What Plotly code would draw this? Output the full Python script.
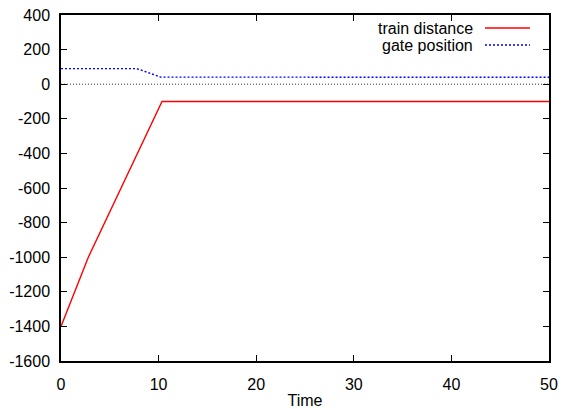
import plotly.graph_objects as go

# Data
train_t = [0, 2.8, 10.35, 50]
train_d = [-1400, -1000, -100, -100]
gate_t = [0, 7.75, 8.4, 9.1, 9.8, 10.2, 50]
gate_p = [90, 90, 78, 63, 47, 41, 40]
x_ticks = [0, 10, 20, 30, 40, 50]
y_ticks = [400, 200, 0, -200, -400, -600, -800, -1000, -1200, -1400, -1600]
series_names = ["train distance", "gate position"]

font = dict(family="Liberation Sans, Arial, sans-serif", size=16, color="black")

fig = go.Figure()
fig.add_trace(go.Scatter(x=train_t, y=train_d, mode="lines",
                         line=dict(color="#ff0000", width=1.4), name=series_names[0]))
fig.add_trace(go.Scatter(x=gate_t, y=gate_p, mode="lines",
                         line=dict(color="#0000ff", width=1.4, dash="2px,2px"), name=series_names[1]))

# zero axis (dotted)
fig.add_shape(type="line", xref="paper", x0=0, x1=1, yref="y", y0=0, y1=0,
              line=dict(color="black", width=0.8, dash="1px,2px"))

L, R, T, B = 61, 549, 15, 361
# gnuplot-style legend: text then sample on the right
for i, (name, col, dash) in enumerate([(series_names[0], "#ff0000", "solid"),
                                        (series_names[1], "#0000ff", "2px,2px")]):
    ypix = 28 + 17 * i
    yp = 1 - (ypix - T) / (B - T)
    fig.add_annotation(text=name, xref="paper", yref="paper", x=(475 - L) / (R - L), y=yp,
                       xanchor="right", yanchor="middle", showarrow=False,
                       font=font)
    fig.add_shape(type="line", xref="paper", yref="paper",
                  x0=(485 - L) / (R - L), x1=(530 - L) / (R - L),
                  y0=yp, y1=yp, line=dict(color=col, width=1.4, dash=dash))

axis_common = dict(showline=True, linecolor="black", linewidth=1.5, mirror="ticks",
                   ticks="inside", ticklen=6, tickcolor="black", tickwidth=1,
                   showgrid=False, zeroline=False, tickfont=font, automargin=False)

fig.update_layout(
    width=563, height=409,
    margin=dict(l=L, r=563 - R, t=T, b=409 - B, autoexpand=False),
    plot_bgcolor="white", paper_bgcolor="white",
    showlegend=False,
    xaxis=dict(range=[0, 50], tickvals=x_ticks, ticktext=[str(v) for v in x_ticks],
               ticklabelstandoff=8,
               title=dict(text="Time", font=font, standoff=6), **axis_common),
    yaxis=dict(range=[-1600, 400], tickvals=y_ticks, ticktext=[str(v) for v in y_ticks],
               ticklabelstandoff=6, **axis_common),
)

fig.write_html("out.html")
